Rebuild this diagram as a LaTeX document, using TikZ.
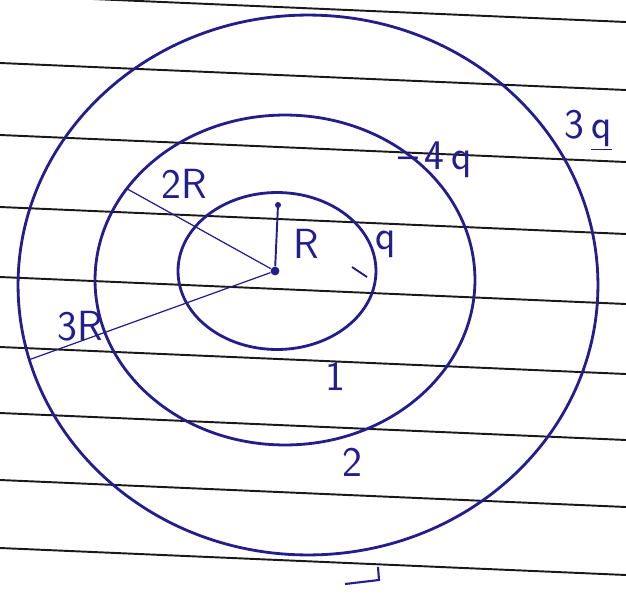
\documentclass[tikz,border=0pt]{standalone}
\definecolor{ink}{RGB}{35,30,140}
\definecolor{paperline}{RGB}{25,25,25}
\usepackage{tikz}
\usetikzlibrary{shapes.geometric, positioning}
\tikzset{
  shell/.style={ellipse, draw=ink, line width=1.6pt,
    inner sep=0pt, outer sep=0pt},
  radial/.style={draw=ink, line width=0.7pt},
  ruled/.style={draw=paperline, line width=1.1pt},
  hand/.style={text=ink, inner sep=1pt,
    font=\sffamily\fontsize{24}{24}\selectfont},
}

\begin{document}
\begin{tikzpicture}[x=0.02cm, y=-0.02cm]
  \useasboundingbox (0,0) rectangle (626,602);
  \fill[white] (0,0) rectangle (626,602);

  % ruled paper
  \foreach \yl in {-5,63,135,207,277,347,413,480,548}
    \draw[ruled] (0,\yl) -- (626,\yl+27);

  % the three shells
  \node[shell, minimum width=11.6cm, minimum height=10.8cm] (outer) at (308,285) {};
  \node[shell, minimum width=7.6cm, minimum height=6.6cm] (middle) at (285,280) {};
  \node[shell, minimum width=3.96cm, minimum height=3.14cm] (inner) at (277,271) {};
  \node[circle, fill=ink, minimum size=5pt, inner sep=0pt] (ctr) at (275,271) {};

  % radii
  \coordinate (rtip) at (278,205);
  \draw[radial] (ctr) -- (middle.150);
  \draw[radial] (ctr) -- (outer.195);
  \draw[radial, line width=1.1pt] (ctr) -- (rtip);
  \fill[ink] (rtip) circle (3);

  \node[hand] (lbl2R) at (184,184) {2R};
  \node[hand] (lbl3R) at (80,326) {3R};
  \node[hand] (lblR) at (306,244) {R};

  % charges
  \coordinate (qdasha) at (352,267);
  \coordinate (qdashb) at (367,277);
  \draw[radial, line width=1.1pt] (qdasha) -- (qdashb);
  \node[hand] (lblq) at (386,244) {q};
  \node[hand, anchor=west] (lbl4q) at (396,160) {--\,4\,q};
  \node[hand] (lbl3q) at (588,130) {3\,\underline{q}};

  % region numbers
  \node[hand] (reg1) at (335,376) {1};
  \node[hand] (reg2) at (352,462) {2};
  \coordinate (hooka) at (378,567);
  \coordinate (hookb) at (345,584);
  \draw[radial, line width=1.2pt] (hooka) -- ++(1,13) -- (hookb);
\end{tikzpicture}
\end{document}
